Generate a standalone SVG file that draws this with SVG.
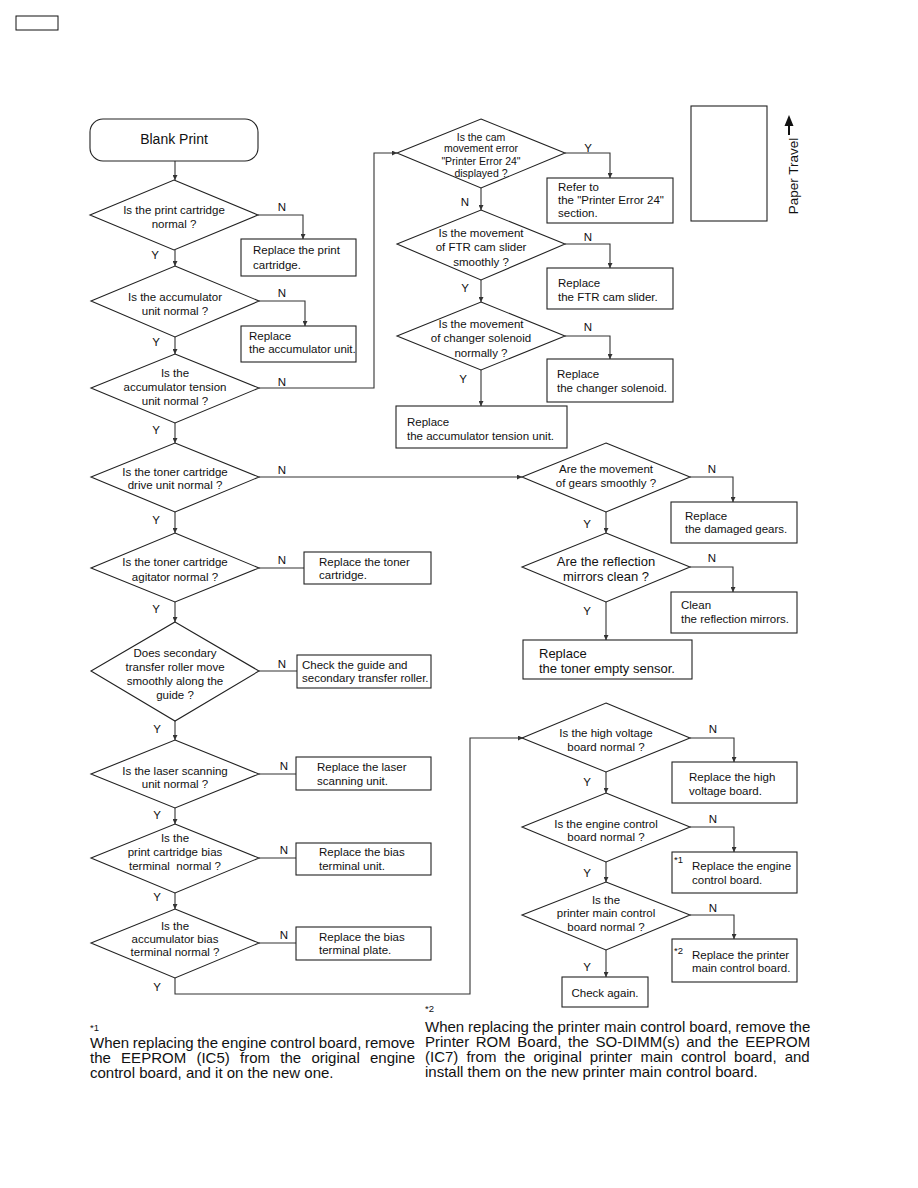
<svg xmlns="http://www.w3.org/2000/svg" width="918" height="1188" viewBox="0 0 918 1188">
<style>
text{font-family:"Liberation Sans",Arial,sans-serif;fill:#111;font-size:11.5px}
.c{text-anchor:middle}
.big{font-size:13px}
.sm{font-size:10.5px}
.lab{font-size:11.5px;text-anchor:middle}
.sh{fill:#fff;stroke:#222;stroke-width:1.1}
.ln{fill:none;stroke:#333;stroke-width:1.1}
.fn{font-size:15px}
.sup{font-size:9.5px}
</style>
<defs>
<marker id="ah" viewBox="0 0 6 6" refX="6" refY="3" markerWidth="5" markerHeight="5" markerUnits="userSpaceOnUse" orient="auto">
<path d="M0,0 L6,3 L0,6 z" fill="#333"/>
</marker>
</defs>
<rect x="16" y="16" width="42" height="14" fill="none" stroke="#111" stroke-width="1"/>

<g id="connectors">
<path class="ln" marker-end="url(#ah)" d="M175,161 V180"/>
<path class="ln" marker-end="url(#ah)" d="M175,250 V266"/>
<path class="ln" marker-end="url(#ah)" d="M258,215 H303 V239"/>
<path class="ln" marker-end="url(#ah)" d="M175,337 V354"/>
<path class="ln" marker-end="url(#ah)" d="M259,301 H305 V326"/>
<path class="ln" marker-end="url(#ah)" d="M259,388 H374 V153 H397"/>
<path class="ln" marker-end="url(#ah)" d="M175,423 V443"/>
<path class="ln" marker-end="url(#ah)" d="M565,153 H610 V178"/>
<path class="ln" marker-end="url(#ah)" d="M481,188 V210"/>
<path class="ln" marker-end="url(#ah)" d="M565,244 H610 V268"/>
<path class="ln" marker-end="url(#ah)" d="M481,280 V302"/>
<path class="ln" marker-end="url(#ah)" d="M565,336 H610 V359"/>
<path class="ln" marker-end="url(#ah)" d="M481,370 V406"/>
<path class="ln" marker-end="url(#ah)" d="M259,477 H522"/>
<path class="ln" marker-end="url(#ah)" d="M175,512 V533"/>
<path class="ln" d="M259,568 H304"/>
<path class="ln" marker-end="url(#ah)" d="M175,602 V622"/>
<path class="ln" d="M259,671 H297"/>
<path class="ln" marker-end="url(#ah)" d="M175,721 V740"/>
<path class="ln" d="M259,774 H296"/>
<path class="ln" marker-end="url(#ah)" d="M175,808 V824"/>
<path class="ln" d="M259,858 H296"/>
<path class="ln" marker-end="url(#ah)" d="M175,893 V909"/>
<path class="ln" d="M259,943 H296"/>
<path class="ln" marker-end="url(#ah)" d="M175,978 V994 H470 V738 H523"/>
<path class="ln" marker-end="url(#ah)" d="M690,477 H733 V502"/>
<path class="ln" marker-end="url(#ah)" d="M606,512 V533"/>
<path class="ln" marker-end="url(#ah)" d="M690,567 H733 V592"/>
<path class="ln" marker-end="url(#ah)" d="M606,602 V640"/>
<path class="ln" marker-end="url(#ah)" d="M690,738 H734 V762"/>
<path class="ln" marker-end="url(#ah)" d="M606,772 V793"/>
<path class="ln" marker-end="url(#ah)" d="M690,827 H734 V852"/>
<path class="ln" marker-end="url(#ah)" d="M606,862 V882"/>
<path class="ln" marker-end="url(#ah)" d="M690,915 H734 V939"/>
<path class="ln" marker-end="url(#ah)" d="M606,950 V977"/>
</g>

<g id="labels">
<text class="lab" x="282" y="211">N</text><text class="lab" x="155" y="259">Y</text>
<text class="lab" x="282" y="297">N</text><text class="lab" x="156" y="346">Y</text>
<text class="lab" x="282" y="386">N</text><text class="lab" x="156" y="434">Y</text>
<text class="lab" x="588" y="152">Y</text><text class="lab" x="465" y="206">N</text>
<text class="lab" x="588" y="241">N</text><text class="lab" x="465" y="292">Y</text>
<text class="lab" x="588" y="331">N</text><text class="lab" x="463" y="383">Y</text>
<text class="lab" x="282" y="474">N</text><text class="lab" x="156" y="524">Y</text>
<text class="lab" x="282" y="564">N</text><text class="lab" x="156" y="613">Y</text>
<text class="lab" x="282" y="668">N</text><text class="lab" x="157" y="733">Y</text>
<text class="lab" x="284" y="770">N</text><text class="lab" x="157" y="819">Y</text>
<text class="lab" x="284" y="854">N</text><text class="lab" x="157" y="901">Y</text>
<text class="lab" x="284" y="939">N</text><text class="lab" x="157" y="991">Y</text>
<text class="lab" x="712" y="473">N</text><text class="lab" x="587" y="528">Y</text>
<text class="lab" x="712" y="562">N</text><text class="lab" x="587" y="615">Y</text>
<text class="lab" x="713" y="733">N</text><text class="lab" x="587" y="786">Y</text>
<text class="lab" x="713" y="823">N</text><text class="lab" x="587" y="877">Y</text>
<text class="lab" x="713" y="912">N</text><text class="lab" x="587" y="971">Y</text>
</g>

<g id="start">
<rect class="sh" x="90" y="119" width="168" height="42" rx="13"/>
<text class="c" x="174" y="144" style="font-size:14px">Blank Print</text>
</g>

<g id="q1">
<polygon class="sh" points="174,180 258,215 174,250 90,215"/>
<text class="c" x="174" y="214">Is the print cartridge</text>
<text class="c" x="174" y="228">normal ?</text>
</g>
<g id="a1">
<rect class="sh" x="241" y="239" width="115" height="37"/>
<text x="253" y="254">Replace the print</text>
<text x="253" y="269">cartridge.</text>
</g>

<g id="q2">
<polygon class="sh" points="175,266 259,301 175,337 91,301"/>
<text class="c" x="175" y="301">Is the accumulator</text>
<text class="c" x="175" y="315">unit normal ?</text>
</g>
<g id="a2">
<rect class="sh" x="241" y="326" width="115" height="36"/>
<text x="249" y="340">Replace</text>
<text x="249" y="353">the accumulator unit.</text>
</g>

<g id="q3">
<polygon class="sh" points="175,354 259,388 175,423 91,388"/>
<text class="c" x="175" y="377">Is the</text>
<text class="c" x="175" y="391">accumulator tension</text>
<text class="c" x="175" y="405">unit normal ?</text>
</g>

<g id="q4">
<polygon class="sh" points="481,119 565,153 481,188 397,153"/>
<text class="c sm" x="481" y="141">Is the cam</text>
<text class="c sm" x="481" y="152">movement error</text>
<text class="c sm" x="481" y="165">"Printer Error 24"</text>
<text class="c sm" x="481" y="177">displayed ?</text>
</g>
<g id="a4">
<rect class="sh" x="547" y="178" width="126" height="45"/>
<text x="558" y="191">Refer to</text>
<text x="558" y="204">the "Printer Error 24"</text>
<text x="558" y="217">section.</text>
</g>

<g id="q5">
<polygon class="sh" points="481,210 565,244 481,280 397,244"/>
<text class="c" x="481" y="237">Is the movement</text>
<text class="c" x="481" y="251">of FTR cam slider</text>
<text class="c" x="481" y="266">smoothly ?</text>
</g>
<g id="a5">
<rect class="sh" x="547" y="268" width="126" height="41"/>
<text x="558" y="287">Replace</text>
<text x="558" y="301">the FTR cam slider.</text>
</g>

<g id="q6">
<polygon class="sh" points="481,302 565,336 481,370 397,336"/>
<text class="c" x="481" y="328">Is the movement</text>
<text class="c" x="481" y="342">of changer solenoid</text>
<text class="c" x="481" y="357">normally ?</text>
</g>
<g id="a6">
<rect class="sh" x="547" y="359" width="126" height="43"/>
<text x="557" y="378">Replace</text>
<text x="557" y="392">the changer solenoid.</text>
</g>
<g id="a6y">
<rect class="sh" x="396" y="406" width="171" height="42"/>
<text x="407" y="426">Replace</text>
<text x="407" y="440">the accumulator tension unit.</text>
</g>

<g id="q7">
<polygon class="sh" points="175,443 259,477 175,512 91,477"/>
<text class="c" x="175" y="476">Is the toner cartridge</text>
<text class="c" x="175" y="489">drive unit normal ?</text>
</g>

<g id="q8">
<polygon class="sh" points="606,443 690,477 606,512 522,477"/>
<text class="c" x="606" y="473">Are the movement</text>
<text class="c" x="606" y="487">of gears smoothly ?</text>
</g>
<g id="a8">
<rect class="sh" x="671" y="502" width="126" height="41"/>
<text x="685" y="520">Replace</text>
<text x="685" y="533">the damaged gears.</text>
</g>

<g id="q9">
<polygon class="sh" points="606,533 690,567 606,602 522,567"/>
<text class="c big" x="606" y="566">Are the reflection</text>
<text class="c big" x="606" y="581">mirrors clean ?</text>
</g>
<g id="a9">
<rect class="sh" x="671" y="592" width="126" height="41"/>
<text x="681" y="609">Clean</text>
<text x="681" y="623">the reflection mirrors.</text>
</g>
<g id="a9y">
<rect class="sh" x="523" y="640" width="169" height="39"/>
<text class="big" x="539" y="658">Replace</text>
<text class="big" x="539" y="673">the toner empty sensor.</text>
</g>

<g id="q10">
<polygon class="sh" points="175,533 259,568 175,602 91,568"/>
<text class="c" x="175" y="566">Is the toner cartridge</text>
<text class="c" x="175" y="581">agitator normal ?</text>
</g>
<g id="a10">
<rect class="sh" x="304" y="552" width="127" height="32"/>
<text x="319" y="566">Replace the toner</text>
<text x="319" y="579">cartridge.</text>
</g>

<g id="q11">
<polygon class="sh" points="175,622 259,671 175,721 91,671"/>
<text class="c" x="175" y="657">Does secondary</text>
<text class="c" x="175" y="671">transfer roller move</text>
<text class="c" x="175" y="685">smoothly along the</text>
<text class="c" x="175" y="699">guide ?</text>
</g>
<g id="a11">
<rect class="sh" x="297" y="655" width="134" height="33"/>
<text x="302" y="669">Check the guide and</text>
<text x="302" y="682">secondary transfer roller.</text>
</g>

<g id="q12">
<polygon class="sh" points="175,740 259,774 175,808 91,774"/>
<text class="c" x="175" y="775">Is the laser scanning</text>
<text class="c" x="175" y="788">unit normal ?</text>
</g>
<g id="a12">
<rect class="sh" x="296" y="757" width="135" height="33"/>
<text x="317" y="771">Replace the laser</text>
<text x="317" y="785">scanning unit.</text>
</g>

<g id="q13">
<polygon class="sh" points="175,824 259,858 175,893 91,858"/>
<text class="c" x="175" y="842">Is the</text>
<text class="c" x="175" y="856">print cartridge bias</text>
<text class="c" x="175" y="870" xml:space="preserve">terminal  normal ?</text>
</g>
<g id="a13">
<rect class="sh" x="296" y="843" width="135" height="32"/>
<text x="319" y="856">Replace the bias</text>
<text x="319" y="870">terminal unit.</text>
</g>

<g id="q14">
<polygon class="sh" points="175,909 259,943 175,978 91,943"/>
<text class="c" x="175" y="930">Is the</text>
<text class="c" x="175" y="943">accumulator bias</text>
<text class="c" x="175" y="956">terminal normal ?</text>
</g>
<g id="a14">
<rect class="sh" x="296" y="927" width="135" height="33"/>
<text x="319" y="941">Replace the bias</text>
<text x="319" y="954">terminal plate.</text>
</g>

<g id="q15">
<polygon class="sh" points="606,703 690,738 606,772 522,738"/>
<text class="c" x="606" y="737">Is the high voltage</text>
<text class="c" x="606" y="751">board normal ?</text>
</g>
<g id="a15">
<rect class="sh" x="672" y="762" width="125" height="41"/>
<text x="689" y="781">Replace the high</text>
<text x="689" y="795">voltage board.</text>
</g>

<g id="q16">
<polygon class="sh" points="606,793 690,827 606,862 522,827"/>
<text class="c" x="606" y="828">Is the engine control</text>
<text class="c" x="606" y="841">board normal ?</text>
</g>
<g id="a16">
<rect class="sh" x="672" y="852" width="125" height="41"/>
<text class="sup" x="674" y="863">*1</text>
<text x="692" y="870">Replace the engine</text>
<text x="692" y="884">control board.</text>
</g>

<g id="q17">
<polygon class="sh" points="606,882 690,915 606,950 522,915"/>
<text class="c" x="606" y="904">Is the</text>
<text class="c" x="606" y="917">printer main control</text>
<text class="c" x="606" y="931">board normal ?</text>
</g>
<g id="a17">
<rect class="sh" x="672" y="939" width="125" height="43"/>
<text class="sup" x="674" y="954">*2</text>
<text x="692" y="959">Replace the printer</text>
<text x="692" y="972">main control board.</text>
</g>
<g id="a17y">
<rect class="sh" x="562" y="977" width="86" height="30"/>
<text class="c" x="605" y="997">Check again.</text>
</g>

<g id="paper">
<rect x="691" y="106" width="76" height="115" fill="none" stroke="#222" stroke-width="1.1"/>
<text transform="translate(798,176) rotate(-90)" class="c" style="font-size:13.5px">Paper Travel</text>
<line x1="789" y1="135" x2="789" y2="124" stroke="#111" stroke-width="2"/>
<polygon points="789,115 784.5,126 793.5,126" fill="#111"/>
</g>

<g id="notes">
<text class="sup" x="90" y="1031">*1</text>
<text class="fn" x="90" y="1048" word-spacing="-0.6">When replacing the engine control board, remove</text>
<text class="fn" x="90" y="1063" word-spacing="6.1">the EEPROM (IC5) from the original engine</text>
<text class="fn" x="90" y="1078">control board, and it on the new one.</text>
<text class="sup" x="425" y="1012">*2</text>
<text class="fn" x="425" y="1032" word-spacing="-0.3">When replacing the printer main control board, remove the</text>
<text class="fn" x="425" y="1047" word-spacing="2.4">Printer ROM Board, the SO-DIMM(s) and the EEPROM</text>
<text class="fn" x="425" y="1062" word-spacing="3.9">(IC7) from the original printer main control board, and</text>
<text class="fn" x="425" y="1077">install them on the new printer main control board.</text>
</g>
</svg>
